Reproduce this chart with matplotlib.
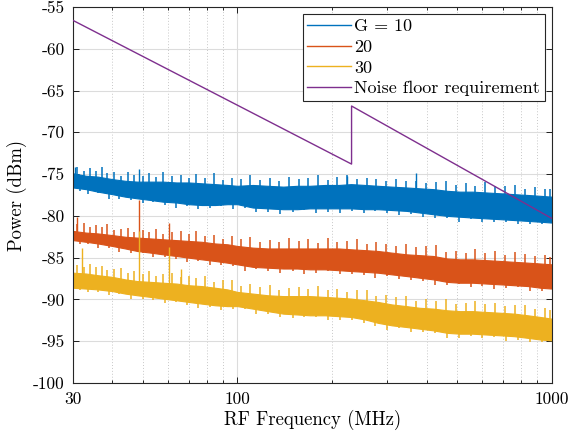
import numpy as np
import matplotlib
matplotlib.use("Agg")
import matplotlib.pyplot as plt

plt.rcParams['font.family'] = ['cmr10', 'DejaVu Serif']
plt.rcParams['axes.unicode_minus'] = False
plt.rcParams['mathtext.fontset'] = 'cm'

# frequency grid (MHz) for the band envelopes
freq = [30, 33, 36, 40, 44, 48, 53, 58, 64, 70, 77, 85, 93, 100, 112, 125, 140,
        155, 170, 190, 210, 230, 255, 280, 310, 345, 380, 420, 465, 510, 560,
        620, 690, 760, 840, 920, 1000]

# G = 10 band (dBm), dense part
g10_hi = [-74.9, -75.2, -75.3, -75.6, -75.8, -75.9, -75.9, -75.9, -76.0, -76.0,
          -76.1, -76.2, -76.3, -76.4, -76.3, -76.4, -76.5, -76.4, -76.4, -76.3,
          -76.3, -76.2, -76.3, -76.4, -76.5, -76.6, -76.7, -76.8, -77.0, -77.1,
          -77.1, -77.2, -77.3, -77.4, -77.5, -77.6, -77.7]
g10_lo = [-76.6, -76.8, -77.1, -77.4, -77.7, -77.9, -78.1, -78.3, -78.4, -78.6,
          -78.7, -78.7, -78.6, -78.6, -79.0, -79.1, -79.2, -79.2, -79.1, -79.1,
          -79.1, -79.1, -79.2, -79.2, -79.3, -79.4, -79.6, -79.8, -80.0, -80.1,
          -80.2, -80.3, -80.4, -80.5, -80.6, -80.7, -80.8]
# G = 20 band
g20_hi = [-81.8, -82.0, -82.1, -82.3, -82.5, -82.6, -82.7, -82.8, -82.9, -83.0,
          -83.1, -83.3, -83.4, -83.6, -83.8, -83.9, -83.9, -83.9, -83.9, -83.9,
          -83.9, -84.0, -84.1, -84.2, -84.4, -84.6, -84.7, -84.8, -85.1, -85.2,
          -85.2, -85.3, -85.4, -85.5, -85.6, -85.7, -85.8]
g20_lo = [-82.9, -83.1, -83.3, -83.6, -83.9, -84.2, -84.4, -84.6, -84.8, -85.0,
          -85.2, -85.4, -85.6, -85.8, -86.1, -86.2, -86.3, -86.3, -86.4, -86.4,
          -86.5, -86.6, -86.7, -86.8, -87.0, -87.2, -87.4, -87.6, -87.9, -88.0,
          -88.0, -88.1, -88.2, -88.3, -88.4, -88.6, -88.7]
# G = 30 band
g30_hi = [-86.8, -86.9, -87.1, -87.3, -87.6, -87.8, -87.9, -88.0, -88.1, -88.3,
          -88.4, -88.6, -88.8, -89.1, -89.3, -89.5, -89.6, -89.6, -89.6, -89.7,
          -89.8, -89.9, -90.1, -90.3, -90.6, -90.8, -91.0, -91.1, -91.3, -91.4,
          -91.4, -91.5, -91.6, -91.7, -91.9, -92.1, -92.3]
g30_lo = [-88.6, -88.7, -88.8, -89.0, -89.3, -89.5, -89.7, -89.9, -90.1, -90.3,
          -90.5, -90.7, -90.8, -90.8, -91.1, -91.4, -91.7, -91.8, -91.9, -91.9,
          -92.0, -92.1, -92.4, -92.8, -93.1, -93.3, -93.5, -93.7, -94.0, -94.1,
          -94.1, -94.2, -94.3, -94.4, -94.6, -94.8, -94.9]

# noise peaks above each band: frequencies (MHz) and rise above band top (dB)
pk_f = [31, 32.5, 34, 35.5, 37, 38.5, 40.5, 42.5, 45, 47,
        50, 52.5, 55, 58, 62, 66, 70, 74, 79, 84,
        90, 96, 103, 110, 118, 127, 136, 146, 157, 168,
        180, 194, 208, 223, 240, 258, 277, 298, 320, 344,
        370, 398, 428, 460, 495, 532, 572, 615, 661, 711,
        765, 822, 884, 950, 990]
g10_rise = [0.8, 0.5, 1.0, 0.7, 1.2, 0.6, 0.9, 0.5, 1.1, 0.8,
            0.7, 1.0, 0.6, 1.2, 0.8, 0.9, 0.5, 1.1, 0.7, 1.3,
            0.6, 0.9, 0.8, 1.2, 0.6, 1.0, 0.7, 1.1, 0.8, 0.9,
            1.2, 0.6, 1.0, 1.1, 0.7, 0.9, 0.8, 0.6, 1.0, 0.8,
            0.9, 0.7, 0.9, 1.1, 0.8, 1.0, 0.7, 1.2, 0.8, 0.9,
            1.1, 0.7, 1.0, 0.8, 0.9]
g20_rise = [0.9, 1.1, 0.7, 1.0, 0.8, 1.2, 0.6, 0.9, 1.1, 0.7,
            1.0, 0.8, 1.2, 0.6, 0.9, 1.1, 0.8, 1.3, 0.7, 1.0,
            0.6, 1.1, 0.9, 1.2, 0.7, 1.0, 0.8, 1.3, 0.9, 1.1,
            0.7, 1.2, 0.8, 1.0, 1.3, 0.7, 1.1, 0.9, 0.8, 1.2,
            0.9, 1.1, 1.4, 0.8, 1.0, 0.7, 1.2, 0.9, 1.1, 0.8,
            1.2, 1.0, 0.8, 1.1, 0.9]
g30_rise = [1.0, 0.8, 1.2, 0.9, 1.1, 0.7, 1.0, 1.2, 0.8, 1.1,
            0.9, 1.3, 0.7, 1.0, 1.2, 0.8, 1.1, 0.9, 1.2, 0.7,
            1.0, 1.3, 0.8, 1.1, 0.9, 1.2, 0.7, 1.0, 1.1, 0.8,
            1.2, 0.9, 1.0, 0.8, 1.1, 1.2, 0.7, 1.0, 0.9, 1.2,
            0.8, 1.1, 0.9, 1.3, 0.8, 1.0, 1.2, 0.9, 1.1, 0.8,
            1.0, 1.2, 0.9, 1.1, 1.0]

# dips below each band: frequencies (MHz) and drop below band bottom (dB)
dp_f = [31.5, 33.5, 36, 39, 42, 46, 50, 54, 59, 64,
        69, 75, 82, 89, 97, 106, 115, 125, 137, 150,
        163, 178, 194, 212, 231, 252, 275, 300, 327, 357,
        390, 425, 464, 506, 552, 602, 657, 717, 782, 853, 930]
g10_drop = [0.3, 0.5, 0.2, 0.6, 0.4, 0.3, 0.5, 0.2, 0.4, 0.6,
            0.3, 0.5, 0.4, 0.2, 0.6, 0.3, 0.5, 0.4, 0.6, 0.3,
            0.2, 0.5, 0.4, 0.6, 0.3, 0.5, 0.2, 0.4, 0.6, 0.3,
            0.5, 0.4, 0.3, 0.6, 0.2, 0.5, 0.4, 0.3, 0.5, 0.4, 0.3]
g20_drop = [0.4, 0.2, 0.5, 0.3, 0.6, 0.4, 0.2, 0.5, 0.3, 0.4,
            0.6, 0.2, 0.5, 0.4, 0.3, 0.6, 0.2, 0.4, 0.5, 0.3,
            0.6, 0.4, 0.2, 0.5, 0.3, 0.4, 0.6, 0.2, 0.5, 0.4,
            0.3, 0.6, 0.4, 0.2, 0.5, 0.3, 0.6, 0.4, 0.2, 0.5, 0.4]
g30_drop = [0.2, 0.4, 0.3, 0.5, 0.2, 0.6, 0.4, 0.3, 0.5, 0.2,
            0.4, 0.6, 0.3, 0.5, 0.4, 0.2, 0.6, 0.3, 0.4, 0.5,
            0.3, 0.2, 0.6, 0.4, 0.3, 0.5, 0.4, 0.6, 0.2, 0.5,
            0.4, 0.3, 0.6, 0.5, 0.3, 0.4, 0.2, 0.6, 0.4, 0.5, 0.3]

# tall spurious tones: (MHz, dBm)
g10_spurs = [(30.5, -74.1), (48.5, -74.4), (224, -75.2), (370, -74.9)]
g20_spurs = [(31, -80.1), (48.5, -78.1), (60.5, -80.8)]
g30_spurs = [(32, -83.9), (48.5, -81.8), (60.5, -83.7), (66, -86.3)]

# noise floor requirement
req_f = [30, 230.8, 230.8, 1000]
req_p = [-56.6, -73.8, -66.85, -80.3]

colors = ['#0072BD', '#D95319', '#EDB120']
purple = '#7E2F8E'
labels = ['G = 10', '20', '30']

fig = plt.figure(figsize=(5.7, 4.38), dpi=100)
ax = fig.add_axes([0.128, 0.1256, 0.84, 0.8584])

series = [(g10_hi, g10_lo, g10_rise, g10_drop, g10_spurs),
          (g20_hi, g20_lo, g20_rise, g20_drop, g20_spurs),
          (g30_hi, g30_lo, g30_rise, g30_drop, g30_spurs)]
lf = np.log(freq)
for (hi, lo, rise, drop, spurs), c, lab in zip(series, colors, labels):
    ax.fill_between(freq, lo, hi, color=c, linewidth=0.8, edgecolor=c, zorder=2)
    top = np.interp(np.log(pk_f), lf, hi)
    ax.vlines(pk_f, top - 0.3, top + np.array(rise), color=c, linewidth=1.1, zorder=2)
    bot = np.interp(np.log(dp_f), lf, lo)
    ax.vlines(dp_f, bot + 0.3, bot - np.array(drop), color=c, linewidth=1.1, zorder=2)
    sf = [s[0] for s in spurs]
    sv = [s[1] for s in spurs]
    ax.vlines(sf, np.interp(np.log(sf), lf, hi) - 0.3, sv, color=c, linewidth=1.0, zorder=2)
    ax.plot([], [], color=c, linewidth=1.0, label=lab)

ax.plot(req_f, req_p, color=purple, linewidth=1.0, zorder=3,
        label='Noise floor requirement')

ax.set_xscale('log')
ax.set_xlim(30, 1000)
ax.set_ylim(-100, -55)

yt = np.arange(-100, -54, 5)
ax.set_yticks(yt)
ax.set_yticklabels([str(v) for v in yt], fontsize=12.5)
ax.set_xticks([30, 100, 1000])
ax.set_xticklabels(['30', '100', '1000'], fontsize=12.5)
minor = [40, 50, 60, 70, 80, 90, 200, 300, 400, 500, 600, 700, 800, 900]
ax.set_xticks(minor, minor=True)
ax.set_xticklabels([], minor=True)

ax.grid(True, which='major', color='#dcdcdc', linewidth=0.8, linestyle='-', zorder=0)
ax.grid(True, which='minor', axis='x', color='#c8c8c8', linewidth=0.7,
        linestyle=(0, (1, 2)), zorder=0)
ax.set_axisbelow(True)
ax.tick_params(which='both', direction='in', top=True, right=True, length=4,
               width=0.6, pad=6)
ax.tick_params(which='minor', length=2.5)
for s in ax.spines.values():
    s.set_linewidth(0.8)
    s.set_color('#262626')

ax.set_xlabel('RF Frequency (MHz)', fontsize=13.5, labelpad=2)
ax.set_ylabel('Power (dBm)', fontsize=13.5, labelpad=4)

leg = ax.legend(loc='upper right', fontsize=13, fancybox=False, framealpha=1,
                edgecolor='#262626', handlelength=2.4, handletextpad=0.2,
                borderpad=0.25, labelspacing=0.28, borderaxespad=0.4)
leg.get_frame().set_linewidth(0.8)

fig.savefig('out.png', dpi=100)
